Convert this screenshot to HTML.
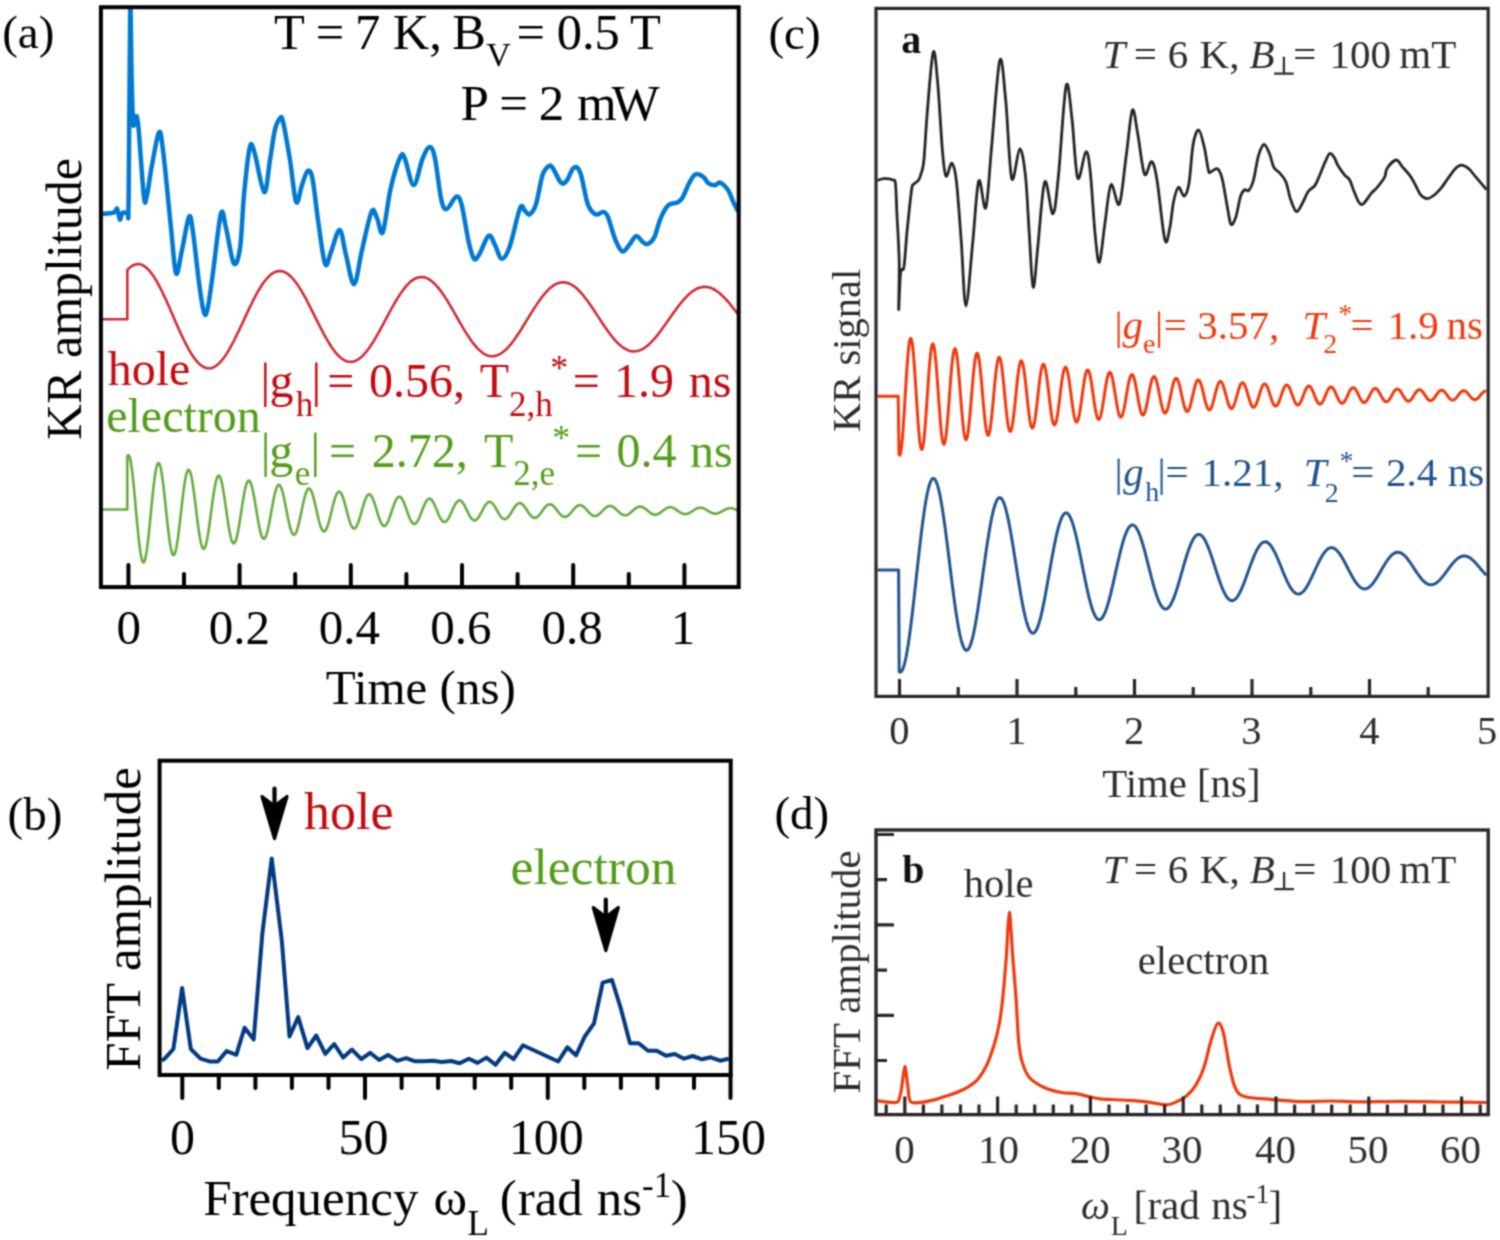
<!DOCTYPE html>
<html><head><meta charset="utf-8"><style>
html,body{margin:0;padding:0;background:#fff;}
svg{display:block;}
text{font-family:"Liberation Serif",serif;}
</style></head><body>
<svg width="1500" height="1240" viewBox="0 0 1500 1240">
<defs><filter id="bl" color-interpolation-filters="sRGB" x="0" y="0" width="1500" height="1240" filterUnits="userSpaceOnUse"><feConvolveMatrix order="3" kernelMatrix="0.0509 0.1238 0.0509 0.1238 0.3012 0.1238 0.0509 0.1238 0.0509" edgeMode="duplicate" preserveAlpha="false"/></filter><clipPath id="ca"><rect x="101" y="7" width="637.7" height="580"/></clipPath><clipPath id="cc"><rect x="876" y="8.4" width="612.2" height="688"/></clipPath></defs>
<rect width="1500" height="1240" fill="#fff"/>
<g filter="url(#bl)">
<!-- (a) curves -->
<path d="M101.5,319.2 L127.3,319.2 L127.3,270.1 L129.3,268.1 L131.3,266.5 L133.3,265.2 L135.3,264.5 L137.3,264.1 L139.3,264.2 L141.3,264.6 L143.3,265.5 L145.3,266.9 L147.3,268.6 L149.3,270.6 L151.3,273.1 L153.3,275.9 L155.3,279 L157.3,282.4 L159.3,286.1 L161.3,290 L163.3,294.1 L165.3,298.4 L167.3,302.8 L169.3,307.3 L171.3,311.9 L173.3,316.6 L175.3,321.2 L177.3,325.7 L179.3,330.2 L181.3,334.6 L183.3,338.8 L185.3,342.9 L187.3,346.7 L189.3,350.3 L191.3,353.7 L193.3,356.7 L195.3,359.4 L197.3,361.8 L199.3,363.9 L201.3,365.5 L203.3,366.8 L205.3,367.7 L207.3,368.2 L209.3,368.3 L211.3,368.1 L213.3,367.4 L215.3,366.3 L217.3,364.9 L219.3,363.1 L221.3,360.9 L223.3,358.5 L225.3,355.7 L227.3,352.6 L229.3,349.3 L231.3,345.7 L233.3,342 L235.3,338 L237.3,333.9 L239.3,329.8 L241.3,325.5 L243.3,321.2 L245.3,316.9 L247.3,312.6 L249.3,308.3 L251.3,304.2 L253.3,300.2 L255.3,296.3 L257.3,292.7 L259.3,289.2 L261.3,286 L263.3,283 L265.3,280.3 L267.3,278 L269.3,275.9 L271.3,274.2 L273.3,272.9 L275.3,271.9 L277.3,271.2 L279.3,271 L281.3,271.1 L283.3,271.6 L285.3,272.4 L287.3,273.6 L289.3,275.1 L291.3,277 L293.3,279.2 L295.3,281.7 L297.3,284.4 L299.3,287.4 L301.3,290.7 L303.3,294.1 L305.3,297.7 L307.3,301.5 L309.3,305.3 L311.3,309.3 L313.3,313.3 L315.3,317.3 L317.3,321.4 L319.3,325.3 L321.3,329.2 L323.3,333.1 L325.3,336.7 L327.3,340.2 L329.3,343.5 L331.3,346.7 L333.3,349.5 L335.3,352.1 L337.3,354.5 L339.3,356.5 L341.3,358.2 L343.3,359.6 L345.3,360.7 L347.3,361.4 L349.3,361.8 L351.3,361.9 L353.3,361.6 L355.3,360.9 L357.3,360 L359.3,358.7 L361.3,357.1 L363.3,355.1 L365.3,352.9 L367.3,350.5 L369.3,347.8 L371.3,344.8 L373.3,341.7 L375.3,338.4 L377.3,334.9 L379.3,331.4 L381.3,327.7 L383.3,324 L385.3,320.2 L387.3,316.4 L389.3,312.7 L391.3,309 L393.3,305.4 L395.3,302 L397.3,298.6 L399.3,295.4 L401.3,292.4 L403.3,289.7 L405.3,287.1 L407.3,284.8 L409.3,282.8 L411.3,281.1 L413.3,279.6 L415.3,278.5 L417.3,277.7 L419.3,277.2 L421.3,277 L423.3,277.1 L425.3,277.6 L427.3,278.4 L429.3,279.5 L431.3,280.9 L433.3,282.5 L435.3,284.5 L437.3,286.7 L439.3,289.1 L441.3,291.8 L443.3,294.6 L445.3,297.6 L447.3,300.8 L449.3,304.1 L451.3,307.5 L453.3,310.9 L455.3,314.4 L457.3,318 L459.3,321.5 L461.3,324.9 L463.3,328.3 L465.3,331.6 L467.3,334.8 L469.3,337.8 L471.3,340.7 L473.3,343.4 L475.3,345.8 L477.3,348.1 L479.3,350.1 L481.3,351.8 L483.3,353.3 L485.3,354.5 L487.3,355.4 L489.3,356 L491.3,356.3 L493.3,356.2 L495.3,355.9 L497.3,355.3 L499.3,354.4 L501.3,353.3 L503.3,351.8 L505.3,350.1 L507.3,348.2 L509.3,346 L511.3,343.6 L513.3,341 L515.3,338.2 L517.3,335.3 L519.3,332.3 L521.3,329.2 L523.3,326 L525.3,322.7 L527.3,319.4 L529.3,316.2 L531.3,312.9 L533.3,309.7 L535.3,306.6 L537.3,303.6 L539.3,300.7 L541.3,297.9 L543.3,295.3 L545.3,293 L547.3,290.8 L549.3,288.8 L551.3,287.1 L553.3,285.6 L555.3,284.4 L557.3,283.4 L559.3,282.8 L561.3,282.4 L563.3,282.3 L565.3,282.4 L567.3,282.9 L569.3,283.6 L571.3,284.6 L573.3,285.8 L575.3,287.3 L577.3,289 L579.3,291 L581.3,293.1 L583.3,295.5 L585.3,298 L587.3,300.6 L589.3,303.4 L591.3,306.3 L593.3,309.3 L595.3,312.3 L597.3,315.4 L599.3,318.4 L601.3,321.5 L603.3,324.5 L605.3,327.4 L607.3,330.3 L609.3,333 L611.3,335.7 L613.3,338.2 L615.3,340.5 L617.3,342.6 L619.3,344.5 L621.3,346.2 L623.3,347.7 L625.3,348.9 L627.3,349.9 L629.3,350.7 L631.3,351.2 L633.3,351.4 L635.3,351.3 L637.3,351 L639.3,350.5 L641.3,349.6 L643.3,348.6 L645.3,347.3 L647.3,345.8 L649.3,344 L651.3,342.1 L653.3,340 L655.3,337.7 L657.3,335.3 L659.3,332.7 L661.3,330.1 L663.3,327.3 L665.3,324.5 L667.3,321.7 L669.3,318.8 L671.3,316 L673.3,313.1 L675.3,310.4 L677.3,307.6 L679.3,305 L681.3,302.5 L683.3,300.1 L685.3,297.9 L687.3,295.9 L689.3,294 L691.3,292.3 L693.3,290.8 L695.3,289.6 L697.3,288.5 L699.3,287.8 L701.3,287.2 L703.3,286.9 L705.3,286.8 L707.3,287 L709.3,287.4 L711.3,288.1 L713.3,289 L715.3,290.1 L717.3,291.5 L719.3,293 L721.3,294.7 L723.3,296.6 L725.3,298.7 L727.3,300.9 L729.3,303.2 L731.3,305.7 L733.3,308.2 L735.3,310.8 L737.3,313.4" fill="none" stroke="#d02a36" stroke-width="2.6" stroke-linejoin="round"/>
<path d="M101.5,509.5 L127.3,509.5 L127.3,456.5 L128,455.3 L128.7,455.2 L129.4,456.4 L130.1,458.6 L130.8,462 L131.5,466.4 L132.2,471.7 L132.9,477.8 L133.6,484.5 L134.3,491.8 L135,499.4 L135.7,507.2 L136.4,515 L137.1,522.7 L137.8,530 L138.5,536.9 L139.2,543.2 L139.9,548.8 L140.6,553.5 L141.3,557.3 L142,560.1 L142.7,561.8 L143.4,562.4 L144.1,561.9 L144.8,560.3 L145.5,557.7 L146.2,554.1 L146.9,549.6 L147.6,544.3 L148.3,538.4 L149,531.9 L149.7,525 L150.4,517.8 L151.1,510.5 L151.8,503.3 L152.5,496.4 L153.2,489.7 L153.9,483.6 L154.6,478.1 L155.3,473.3 L156,469.3 L156.7,466.3 L157.4,464.2 L158.1,463.2 L158.8,463.1 L159.5,464.1 L160.2,466 L160.9,468.9 L161.6,472.7 L162.3,477.2 L163,482.4 L163.7,488.2 L164.4,494.4 L165.1,501 L165.8,507.7 L166.5,514.4 L167.2,521 L167.9,527.3 L168.6,533.2 L169.3,538.7 L170,543.4 L170.7,547.5 L171.4,550.7 L172.1,553.1 L172.8,554.6 L173.5,555.1 L174.2,554.7 L174.9,553.3 L175.6,551.1 L176.3,548 L177,544.1 L177.7,539.6 L178.4,534.5 L179.1,528.9 L179.8,523 L180.5,516.8 L181.2,510.6 L181.9,504.4 L182.6,498.4 L183.3,492.7 L184,487.4 L184.7,482.7 L185.4,478.6 L186.1,475.2 L186.8,472.6 L187.5,470.8 L188.2,469.9 L188.9,469.8 L189.6,470.7 L190.3,472.4 L191,474.8 L191.7,478.1 L192.4,482 L193.1,486.4 L193.8,491.4 L194.5,496.8 L195.2,502.4 L195.9,508.1 L196.6,513.9 L197.3,519.5 L198,525 L198.7,530.1 L199.4,534.7 L200.1,538.8 L200.8,542.3 L201.5,545.1 L202.2,547.1 L202.9,548.4 L203.6,548.8 L204.3,548.5 L205,547.3 L205.7,545.4 L206.4,542.7 L207.1,539.4 L207.8,535.5 L208.5,531.1 L209.2,526.3 L209.9,521.2 L210.6,516 L211.3,510.6 L212,505.3 L212.7,500.2 L213.4,495.3 L214.1,490.7 L214.8,486.7 L215.5,483.1 L216.2,480.2 L216.9,478 L217.6,476.5 L218.3,475.7 L219,475.6 L219.7,476.4 L220.4,477.8 L221.1,479.9 L221.8,482.7 L222.5,486 L223.2,489.9 L223.9,494.2 L224.6,498.7 L225.3,503.6 L226,508.5 L226.7,513.4 L227.4,518.3 L228.1,523 L228.8,527.3 L229.5,531.3 L230.2,534.9 L230.9,537.8 L231.6,540.2 L232.3,542 L233,543.1 L233.7,543.4 L234.4,543.1 L235.1,542.1 L235.8,540.5 L236.5,538.2 L237.2,535.4 L237.9,532 L238.6,528.2 L239.3,524.1 L240,519.8 L240.7,515.2 L241.4,510.6 L242.1,506.1 L242.8,501.7 L243.5,497.5 L244.2,493.6 L244.9,490.1 L245.6,487.1 L246.3,484.6 L247,482.6 L247.7,481.3 L248.4,480.6 L249.1,480.6 L249.8,481.2 L250.5,482.5 L251.2,484.3 L251.9,486.7 L252.6,489.5 L253.3,492.8 L254,496.5 L254.7,500.5 L255.4,504.6 L256.1,508.8 L256.8,513.1 L257.5,517.2 L258.2,521.2 L258.9,525 L259.6,528.4 L260.3,531.5 L261,534 L261.7,536.1 L262.4,537.6 L263.1,538.5 L263.8,538.8 L264.5,538.6 L265.2,537.7 L265.9,536.3 L266.6,534.3 L267.3,531.9 L268,529 L268.7,525.8 L269.4,522.2 L270.1,518.5 L270.8,514.6 L271.5,510.7 L272.2,506.7 L272.9,503 L273.6,499.3 L274.3,496 L275,493 L275.7,490.4 L276.4,488.3 L277.1,486.6 L277.8,485.5 L278.5,484.9 L279.2,484.9 L279.9,485.4 L280.6,486.5 L281.3,488 L282,490.1 L282.7,492.5 L283.4,495.4 L284.1,498.5 L284.8,501.9 L285.5,505.5 L286.2,509.1 L286.9,512.8 L287.6,516.3 L288.3,519.8 L289,523 L289.7,525.9 L290.4,528.5 L291.1,530.7 L291.8,532.5 L292.5,533.8 L293.2,534.6 L293.9,534.9 L294.6,534.6 L295.3,533.9 L296,532.7 L296.7,531 L297.4,528.9 L298.1,526.4 L298.8,523.7 L299.5,520.6 L300.2,517.4 L300.9,514.1 L301.6,510.7 L302.3,507.3 L303,504.1 L303.7,501 L304.4,498.1 L305.1,495.5 L305.8,493.3 L306.5,491.5 L307.2,490 L307.9,489.1 L308.6,488.6 L309.3,488.5 L310,489 L310.7,489.9 L311.4,491.3 L312.1,493 L312.8,495.1 L313.5,497.6 L314.2,500.3 L314.9,503.2 L315.6,506.2 L316.3,509.3 L317,512.5 L317.7,515.5 L318.4,518.5 L319.1,521.3 L319.8,523.8 L320.5,526 L321.2,527.9 L321.9,529.4 L322.6,530.5 L323.3,531.2 L324,531.5 L324.7,531.3 L325.4,530.6 L326.1,529.6 L326.8,528.1 L327.5,526.3 L328.2,524.2 L328.9,521.8 L329.6,519.2 L330.3,516.5 L331,513.6 L331.7,510.7 L332.4,507.8 L333.1,505 L333.8,502.4 L334.5,499.9 L335.2,497.7 L335.9,495.8 L336.6,494.2 L337.3,493 L338,492.1 L338.7,491.7 L339.4,491.7 L340.1,492.1 L340.8,492.9 L341.5,494 L342.2,495.5 L342.9,497.3 L343.6,499.4 L344.3,501.8 L345,504.3 L345.7,506.9 L346.4,509.5 L347.1,512.2 L347.8,514.9 L348.5,517.4 L349.2,519.8 L349.9,522 L350.6,523.9 L351.3,525.5 L352,526.8 L352.7,527.7 L353.4,528.3 L354.1,528.5 L354.8,528.4 L355.5,527.8 L356.2,526.9 L356.9,525.7 L357.6,524.1 L358.3,522.3 L359,520.3 L359.7,518 L360.4,515.7 L361.1,513.2 L361.8,510.7 L362.5,508.2 L363.2,505.8 L363.9,503.6 L364.6,501.4 L365.3,499.5 L366,497.9 L366.7,496.5 L367.4,495.5 L368.1,494.8 L368.8,494.4 L369.5,494.4 L370.2,494.7 L370.9,495.4 L371.6,496.4 L372.3,497.7 L373,499.2 L373.7,501 L374.4,503 L375.1,505.2 L375.8,507.4 L376.5,509.7 L377.2,512 L377.9,514.3 L378.6,516.5 L379.3,518.5 L380,520.4 L380.7,522 L381.4,523.4 L382.1,524.5 L382.8,525.4 L383.5,525.9 L384.2,526 L384.9,525.9 L385.6,525.4 L386.3,524.6 L387,523.6 L387.7,522.3 L388.4,520.7 L389.1,518.9 L389.8,517 L390.5,515 L391.2,512.9 L391.9,510.7 L392.6,508.6 L393.3,506.5 L394,504.6 L394.7,502.8 L395.4,501.1 L396.1,499.7 L396.8,498.6 L397.5,497.7 L398.2,497 L398.9,496.7 L399.6,496.7 L400.3,497 L401,497.6 L401.7,498.4 L402.4,499.5 L403.1,500.9 L403.8,502.4 L404.5,504.1 L405.2,506 L405.9,507.9 L406.6,509.9 L407.3,511.9 L408,513.8 L408.7,515.7 L409.4,517.4 L410.1,519 L410.8,520.4 L411.5,521.6 L412.2,522.6 L412.9,523.3 L413.6,523.7 L414.3,523.9 L415,523.8 L415.7,523.4 L416.4,522.7 L417.1,521.8 L417.8,520.6 L418.5,519.3 L419.2,517.8 L419.9,516.1 L420.6,514.4 L421.3,512.6 L422,510.7 L422.7,508.9 L423.4,507.1 L424.1,505.5 L424.8,503.9 L425.5,502.5 L426.2,501.3 L426.9,500.3 L427.6,499.5 L428.3,499 L429,498.7 L429.7,498.7 L430.4,499 L431.1,499.4 L431.8,500.2 L432.5,501.1 L433.2,502.3 L433.9,503.6 L434.6,505.1 L435.3,506.7 L436,508.3 L436.7,510 L437.4,511.7 L438.1,513.4 L438.8,515 L439.5,516.5 L440.2,517.9 L440.9,519.1 L441.6,520.1 L442.3,520.9 L443,521.5 L443.7,521.9 L444.4,522 L445.1,521.9 L445.8,521.6 L446.5,521 L447.2,520.2 L447.9,519.2 L448.6,518.1 L449.3,516.8 L450,515.4 L450.7,513.9 L451.4,512.3 L452.1,510.7 L452.8,509.2 L453.5,507.7 L454.2,506.2 L454.9,504.9 L455.6,503.7 L456.3,502.6 L457,501.8 L457.7,501.1 L458.4,500.7 L459.1,500.4 L459.8,500.4 L460.5,500.6 L461.2,501.1 L461.9,501.7 L462.6,502.5 L463.3,503.5 L464,504.6 L464.7,505.9 L465.4,507.2 L466.1,508.7 L466.8,510.1 L467.5,511.6 L468.2,513 L468.9,514.4 L469.6,515.7 L470.3,516.9 L471,517.9 L471.7,518.8 L472.4,519.5 L473.1,520 L473.8,520.3 L474.5,520.4 L475.2,520.3 L475.9,520.1 L476.6,519.6 L477.3,518.9 L478,518.1 L478.7,517.1 L479.4,515.9 L480.1,514.7 L480.8,513.4 L481.5,512.1 L482.2,510.8 L482.9,509.4 L483.6,508.1 L484.3,506.9 L485,505.7 L485.7,504.7 L486.4,503.8 L487.1,503.1 L487.8,502.5 L488.5,502.1 L489.2,501.9 L489.9,501.9 L490.6,502.1 L491.3,502.4 L492,503 L492.7,503.7 L493.4,504.5 L494.1,505.5 L494.8,506.6 L495.5,507.7 L496.2,509 L496.9,510.2 L497.6,511.5 L498.3,512.7 L499,513.9 L499.7,515 L500.4,516 L501.1,516.9 L501.8,517.7 L502.5,518.3 L503.2,518.7 L503.9,519 L504.6,519.1 L505.3,519 L506,518.7 L506.7,518.3 L507.4,517.7 L508.1,517 L508.8,516.2 L509.5,515.2 L510.2,514.2 L510.9,513.1 L511.6,511.9 L512.3,510.8 L513,509.6 L513.7,508.5 L514.4,507.4 L515.1,506.4 L515.8,505.5 L516.5,504.8 L517.2,504.1 L517.9,503.7 L518.6,503.3 L519.3,503.2 L520,503.1 L520.7,503.3 L521.4,503.6 L522.1,504.1 L522.8,504.7 L523.5,505.4 L524.2,506.2 L524.9,507.2 L525.6,508.2 L526.3,509.2 L527,510.3 L527.7,511.4 L528.4,512.4 L529.1,513.4 L529.8,514.4 L530.5,515.3 L531.2,516 L531.9,516.7 L532.6,517.2 L533.3,517.6 L534,517.8 L534.7,517.9 L535.4,517.8 L536.1,517.6 L536.8,517.3 L537.5,516.8 L538.2,516.1 L538.9,515.4 L539.6,514.6 L540.3,513.7 L541,512.7 L541.7,511.8 L542.4,510.8 L543.1,509.8 L543.8,508.8 L544.5,507.9 L545.2,507.1 L545.9,506.3 L546.6,505.6 L547.3,505.1 L548,504.7 L548.7,504.4 L549.4,504.2 L550.1,504.2 L550.8,504.4 L551.5,504.6 L552.2,505 L552.9,505.5 L553.6,506.2 L554.3,506.9 L555,507.7 L555.7,508.5 L556.4,509.4 L557.1,510.4 L557.8,511.3 L558.5,512.2 L559.2,513.1 L559.9,513.9 L560.6,514.6 L561.3,515.3 L562,515.9 L562.7,516.3 L563.4,516.6 L564.1,516.8 L564.8,516.9 L565.5,516.8 L566.2,516.7 L566.9,516.3 L567.6,515.9 L568.3,515.4 L569,514.8 L569.7,514.1 L570.4,513.3 L571.1,512.5 L571.8,511.6 L572.5,510.8 L573.2,509.9 L573.9,509.1 L574.6,508.3 L575.3,507.6 L576,506.9 L576.7,506.4 L577.4,505.9 L578.1,505.5 L578.8,505.3 L579.5,505.2 L580.2,505.2 L580.9,505.3 L581.6,505.5 L582.3,505.8 L583,506.3 L583.7,506.8 L584.4,507.4 L585.1,508.1 L585.8,508.9 L586.5,509.6 L587.2,510.4 L587.9,511.2 L588.6,512 L589.3,512.8 L590,513.5 L590.7,514.1 L591.4,514.7 L592.1,515.1 L592.8,515.5 L593.5,515.8 L594.2,516 L594.9,516 L595.6,516 L596.3,515.8 L597,515.6 L597.7,515.2 L598.4,514.7 L599.1,514.2 L599.8,513.6 L600.5,512.9 L601.2,512.2 L601.9,511.5 L602.6,510.8 L603.3,510 L604,509.3 L604.7,508.7 L605.4,508 L606.1,507.5 L606.8,507 L607.5,506.6 L608.2,506.3 L608.9,506.1 L609.6,506 L610.3,506 L611,506.1 L611.7,506.3 L612.4,506.5 L613.1,506.9 L613.8,507.4 L614.5,507.9 L615.2,508.5 L615.9,509.1 L616.6,509.8 L617.3,510.5 L618,511.2 L618.7,511.8 L619.4,512.5 L620.1,513.1 L620.8,513.6 L621.5,514.1 L622.2,514.5 L622.9,514.9 L623.6,515.1 L624.3,515.2 L625,515.3 L625.7,515.3 L626.4,515.1 L627.1,514.9 L627.8,514.6 L628.5,514.2 L629.2,513.7 L629.9,513.2 L630.6,512.6 L631.3,512 L632,511.4 L632.7,510.8 L633.4,510.2 L634.1,509.5 L634.8,509 L635.5,508.4 L636.2,507.9 L636.9,507.5 L637.6,507.2 L638.3,506.9 L639,506.7 L639.7,506.6 L640.4,506.6 L641.1,506.7 L641.8,506.9 L642.5,507.1 L643.2,507.5 L643.9,507.9 L644.6,508.3 L645.3,508.8 L646,509.4 L646.7,509.9 L647.4,510.5 L648.1,511.1 L648.8,511.7 L649.5,512.2 L650.2,512.8 L650.9,513.2 L651.6,513.6 L652.3,514 L653,514.3 L653.7,514.5 L654.4,514.6 L655.1,514.7 L655.8,514.6 L656.5,514.5 L657.2,514.3 L657.9,514 L658.6,513.7 L659.3,513.3 L660,512.9 L660.7,512.4 L661.4,511.9 L662.1,511.3 L662.8,510.8 L663.5,510.2 L664.2,509.7 L664.9,509.2 L665.6,508.8 L666.3,508.4 L667,508 L667.7,507.7 L668.4,507.5 L669.1,507.3 L669.8,507.2 L670.5,507.2 L671.2,507.3 L671.9,507.4 L672.6,507.7 L673.3,507.9 L674,508.3 L674.7,508.7 L675.4,509.1 L676.1,509.6 L676.8,510.1 L677.5,510.6 L678.2,511.1 L678.9,511.6 L679.6,512 L680.3,512.5 L681,512.9 L681.7,513.2 L682.4,513.5 L683.1,513.8 L683.8,514 L684.5,514.1 L685.2,514.1 L685.9,514.1 L686.6,514 L687.3,513.8 L688,513.6 L688.7,513.3 L689.4,513 L690.1,512.6 L690.8,512.2 L691.5,511.7 L692.2,511.2 L692.9,510.8 L693.6,510.3 L694.3,509.9 L695,509.4 L695.7,509.1 L696.4,508.7 L697.1,508.4 L697.8,508.1 L698.5,507.9 L699.2,507.8 L699.9,507.7 L700.6,507.7 L701.3,507.8 L702,507.9 L702.7,508.1 L703.4,508.3 L704.1,508.6 L704.8,509 L705.5,509.3 L706.2,509.7 L706.9,510.2 L707.6,510.6 L708.3,511 L709,511.5 L709.7,511.9 L710.4,512.2 L711.1,512.6 L711.8,512.9 L712.5,513.2 L713.2,513.4 L713.9,513.5 L714.6,513.6 L715.3,513.6 L716,513.6 L716.7,513.5 L717.4,513.4 L718.1,513.2 L718.8,512.9 L719.5,512.6 L720.2,512.3 L720.9,512 L721.6,511.6 L722.3,511.2 L723,510.8 L723.7,510.4 L724.4,510 L725.1,509.6 L725.8,509.3 L726.5,509 L727.2,508.7 L727.9,508.5 L728.6,508.3 L729.3,508.2 L730,508.2 L730.7,508.2 L731.4,508.2 L732.1,508.3 L732.8,508.5 L733.5,508.7 L734.2,508.9 L734.9,509.2 L735.6,509.6 L736.3,509.9 L737,510.3 L737.7,510.6" fill="none" stroke="#66ab40" stroke-width="2.6" stroke-linejoin="round"/>
<path clip-path="url(#ca)" d="M101.5,214 C103.5,213.8 111.1,213.6 113.7,212.7 C116.3,211.8 116.1,207.4 117.1,208.6 C118.1,209.8 119,218.9 119.9,219.6 C120.8,220.3 121.3,213.9 122.6,212.7 C123.8,211.4 126.4,214.2 127.4,212.1 C128.4,210 128.1,233.7 128.6,200 C129.1,166.3 129.7,30.8 130.2,10 C130.7,-10.8 131.1,56 131.6,75 C132.1,94 132.5,117.1 133.2,124 C133.9,130.9 134.8,116.2 135.6,116.5 C136.4,116.8 136.9,112.8 138.3,126 C139.7,139.2 142.4,183.8 143.8,195.6 C145.2,207.4 145.2,202.1 146.6,197 C148,191.9 149.9,175.7 152,165 C154.1,154.3 157.1,135.1 158.9,132.6 C160.7,130.1 160.9,133.8 163,150 C165.1,166.2 169,209.3 171.2,229.9 C173.4,250.5 174.3,270.1 176.1,273.5 C177.9,276.9 179.8,259.4 182,250 C184.2,240.6 187.2,219.8 189,216.8 C190.8,213.8 191.2,219.8 193,232 C194.8,244.2 197.9,276.2 200,290 C202.1,303.8 203.8,316.5 205.8,314.8 C207.8,313.1 209.5,296.8 212,280 C214.5,263.2 218.5,222.9 220.8,214.2 C223.1,205.5 223.8,219.8 226,228 C228.2,236.2 231.4,259.8 233.7,263.2 C236,266.6 238.3,259.7 240,248.3 C241.7,236.9 242.4,211.8 244,195 C245.6,178.2 247.9,154.8 249.7,147.7 C251.4,140.6 252.1,145.1 254.5,152.5 C256.9,159.9 261.6,190.9 264.2,192.2 C266.8,193.4 268.2,170.3 270,160 C271.8,149.7 273.2,137.2 274.8,130.3 C276.4,123.4 278.3,120.2 279.7,118.7 C281.1,117.2 281.3,114.7 283,121.6 C284.7,128.5 287.8,146.6 290,160 C292.2,173.4 294.1,197.7 296.1,201.9 C298.1,206.1 300.1,190.2 302,185 C303.9,179.8 305.9,172 307.7,170.9 C309.4,169.8 310.8,170.5 312.5,178.7 C314.2,186.9 315.9,205.8 318,220 C320.1,234.2 322.9,258.5 325.1,263.8 C327.3,269.1 328.6,257.6 331,252 C333.4,246.3 337.1,229.4 339.6,229.9 C342.1,230.4 343.6,246 346,255 C348.4,264 351.4,284.9 354.1,284.1 C356.8,283.3 359.1,262.1 362,250 C364.9,237.9 369.1,216.9 371.6,211.6 C374.1,206.3 375.1,214.6 377,218 C378.9,221.4 380.5,237.1 382.8,232.2 C385.1,227.3 387.7,201.3 390.6,188.7 C393.5,176.1 398,161.8 400.4,156.8 C402.8,151.8 402.6,153.8 404.8,158.5 C407,163.2 410.7,185.1 413.7,185.1 C416.7,185.1 419.9,164.8 422.6,158.5 C425.3,152.2 427.6,147 429.7,147 C431.8,147 433.1,149.8 435,158.5 C436.9,167.2 439.3,190.9 441.2,199.3 C443.1,207.7 444,209.5 446.5,209.1 C449,208.7 453.8,197.4 456.3,196.7 C458.8,196 459.5,197.2 461.6,204.7 C463.7,212.2 466.6,232.9 468.7,241.9 C470.8,250.9 472.2,256.7 474,258.8 C475.8,260.9 476.9,258.2 479.3,254.3 C481.7,250.5 486,237.2 488.6,235.7 C491.2,234.1 492.9,241.2 495,245 C497.1,248.8 499.1,258.4 501.5,258.8 C503.9,259.2 506.4,255.6 509.5,247.2 C512.6,238.8 517.5,214.2 520.1,208.2 C522.7,202.2 523.4,210 525,211 C526.6,212 527.9,215.6 529.7,214.4 C531.6,213.2 534,210.5 536.1,203.9 C538.2,197.3 540.5,181.1 542.6,174.8 C544.8,168.5 547.3,167.1 549,166 C550.7,164.9 551,165.6 553,168.4 C555,171.2 558.8,180.9 561.1,182.9 C563.4,184.9 564.6,183.1 566.8,180.5 C568.9,177.9 571.7,168.8 574,167.6 C576.3,166.4 578.2,167.1 580.5,173.2 C582.8,179.2 585.2,197 587.7,203.9 C590.2,210.8 593.2,213.1 595.8,214.4 C598.4,215.7 601.1,211.5 603.1,211.9 C605.1,212.3 605.9,212.2 607.9,216.8 C609.9,221.4 612.8,233.6 615.2,239.4 C617.6,245.2 620,250.7 622.4,251.5 C624.8,252.3 627.4,246.8 629.7,244.2 C632,241.6 634,236.5 636.1,236.1 C638.2,235.7 640.7,240.5 642.6,241.8 C644.5,243.1 645.8,244.7 647.7,244 C649.6,243.3 652,241.8 654.2,237.5 C656.4,233.2 658.3,223.5 660.7,218.1 C663.1,212.7 665.6,207.8 668.4,205.2 C671.2,202.6 675,203.9 677.4,202.6 C679.8,201.3 680.6,200.7 682.6,197.5 C684.6,194.3 687,187.2 689.1,183.3 C691.2,179.4 693.1,175.3 695.5,174.2 C697.9,173.1 701.1,175.3 703.3,176.8 C705.4,178.3 706.5,181.9 708.4,183.3 C710.3,184.7 712.9,185.3 714.9,185.2 C716.9,185.1 718,181.8 720.1,182.6 C722.2,183.3 725.6,186.6 727.8,189.7 C729.9,192.8 731.4,197.9 733,201.3 C734.6,204.8 736.8,208.9 737.5,210.4" fill="none" stroke="#0079d0" stroke-width="4.5" stroke-linejoin="round" stroke-linecap="round"/>
<rect x="100.9" y="7.2" width="637.8" height="579.9" fill="none" stroke="#000" stroke-width="4"/>
<path d="M128.4,587V565 M184,587V574 M239.6,587V565 M295.2,587V574 M350.8,587V565 M406.4,587V574 M462,587V565 M517.6,587V574 M573.2,587V565 M628.8,587V574 M684.4,587V565" stroke="#000" stroke-width="4" stroke-linecap="round"/>
<!-- (b) -->
<g fill="#000" stroke="#000" stroke-width="3.2" stroke-linejoin="round" stroke-linecap="round">
<path d="M274.5,788.5V808" fill="none" stroke-width="4.2"/>
<path d="M262,796.5 L274.5,806 L287,796.5 L274.5,838.5 Z"/>
<path d="M605.8,899.5V919" fill="none" stroke-width="4.2"/>
<path d="M593.3,907.5 L605.8,917 L618.3,907.5 L605.8,950.5 Z"/>
</g>
<path d="M161.8,1060.6 L164.7,1058.7 L173.4,1049 L182.1,988.1 L190.8,1049 L200.5,1058.7 L210.2,1061.6 L217.9,1061.6 L226.6,1051 L236.3,1054.8 L244.6,1027.7 L253.7,1039.4 L262.4,932.9 L271.7,858.4 L281.8,940.6 L289.5,1036.5 L298.2,1017.1 L307.5,1048.1 L316.2,1035.5 L325.3,1053.9 L334.2,1044 L343.2,1057.6 L352,1049.6 L361.3,1059.2 L370.1,1052.8 L379.2,1060 L388,1054.9 L397.3,1060.8 L406.1,1058.1 L415.2,1061.3 L424,1061.3 L432.8,1060.8 L441.9,1061.9 L450.9,1061 L459.7,1063.2 L468.8,1058.7 L477.6,1062.9 L486.4,1057.6 L495.5,1064.8 L504.8,1052.8 L513.6,1059.2 L522.9,1045.3 L558.2,1061.5 L567.3,1047.3 L576,1055.3 L584.7,1036.7 L594,1023.3 L602.7,982.7 L612,980 L620.7,1008 L630,1043.3 L638.7,1043.3 L648,1050.7 L656.7,1050.7 L666,1055.7 L674.7,1054 L684,1058.7 L692.7,1056 L702,1059.3 L710.7,1057.3 L720,1060.7 L728.7,1058.7" fill="none" stroke="#033a80" stroke-width="4" stroke-linejoin="round"/>
<rect x="159.6" y="760.7" width="571.1" height="314.3" fill="none" stroke="#000" stroke-width="4"/>
<path d="M182.3,1075V1098 M218.8,1075V1088 M255.4,1075V1088 M291.9,1075V1088 M328.5,1075V1088 M365,1075V1098 M401.6,1075V1088 M438.1,1075V1088 M474.7,1075V1088 M511.2,1075V1088 M547.8,1075V1098 M584.3,1075V1088 M620.9,1075V1088 M657.4,1075V1088 M694,1075V1088 M730.5,1075V1098" stroke="#000" stroke-width="4" stroke-linecap="round"/>
<!-- (c) -->
<path d="M877.5,180.5 C878.6,180.2 881.3,178.8 883.9,178.7 C886.5,178.6 891,179.1 892.9,180 C894.8,180.9 894.9,178.6 895.5,183.9 C896.1,189.2 896.2,198.6 896.8,211.6 C897.4,224.6 898.9,245.7 899.2,262 C899.5,278.3 898.5,307.8 898.7,309.5 C898.9,311.2 899.7,279.4 900.6,272.3 C901.5,265.2 902.8,274 903.9,267.1 C905,260.2 905.8,243.9 907.1,231 C908.4,218.1 910.4,197.5 911.6,189.7 C912.8,181.8 913,185.5 914.2,183.9 C915.4,182.3 917.5,181.8 918.7,180 C919.9,178.2 920.4,176.2 921.3,172.9 C922.2,169.6 922.9,170.2 923.9,160 C924.9,149.8 925.8,129.9 927.3,111.9 C928.8,93.9 931.5,56.9 933.2,52.2 C935,47.5 936.2,67.2 937.8,83.8 C939.3,100.4 941.1,136.2 942.5,151.6 C943.9,167 944.4,174.2 946,176.2 C947.6,178.1 950.1,162.3 951.9,163.3 C953.6,164.3 955,169.1 956.5,182 C958,194.9 959.6,219.8 961.2,240.5 C962.8,261.2 964,306 965.9,306 C967.8,306 970.8,261.4 972.9,240.5 C975,219.7 976.6,186.3 978.8,180.9 C980.9,175.5 983.7,213.5 985.8,207.8 C987.9,202.2 989.3,171.6 991.6,147 C993.9,122.4 997.4,68.2 999.8,60.4 C1002.1,52.6 1003.7,80.5 1005.7,100.2 C1007.7,119.9 1009.4,170.4 1011.7,178.5 C1014,186.6 1017.4,149.4 1019.7,149 C1022,148.6 1023.9,161.9 1025.5,176.1 C1027.1,190.3 1028,215.6 1029.3,234.1 C1030.6,252.6 1031.7,285.7 1033.2,287.3 C1034.7,288.9 1036.2,261.4 1038.1,243.8 C1040,226.2 1042.3,186.9 1044.8,181.9 C1047.3,176.9 1050.6,214.8 1052.9,213.8 C1055.2,212.8 1056.2,197.4 1058.4,176.1 C1060.6,154.8 1063.8,95.8 1066.1,86.1 C1068.3,76.4 1070,102.7 1071.9,118 C1073.8,133.3 1075.4,172.3 1077.7,178 C1080,183.7 1083.7,152.9 1085.8,151.9 C1087.9,150.9 1088.8,158.5 1090.3,172.2 C1091.8,185.9 1093.6,219.1 1095.1,234.1 C1096.6,249.1 1097.8,263.8 1099.4,262.2 C1101,260.6 1102.9,237.3 1104.8,224.4 C1106.7,211.5 1108.6,188.2 1111,184.8 C1113.4,181.4 1116.8,208.8 1119.3,204.1 C1121.8,199.4 1123.9,172.3 1126.1,156.7 C1128.3,141.1 1130.4,114.2 1132.3,110.3 C1134.2,106.4 1135.7,122.9 1137.7,133.5 C1139.7,144.1 1142.2,169.4 1144.5,174.1 C1146.8,178.8 1149.5,160.6 1151.6,161.6 C1153.7,162.6 1154.8,167 1157,180 C1159.2,193 1162.7,231.4 1164.8,239.5 C1166.9,247.6 1168.2,234.8 1169.7,228.4 C1171.2,222 1172.2,207.8 1173.7,201 C1175.2,194.2 1176.8,188.1 1178.5,187.3 C1180.2,186.5 1182.5,196.8 1184.2,196.1 C1186,195.4 1187.5,191.8 1189,183.2 C1190.5,174.6 1191.5,153.4 1193.1,144.5 C1194.7,135.6 1196.8,129.5 1198.7,130 C1200.6,130.5 1202.8,141 1204.4,147.7 C1206,154.4 1207.3,166.3 1208.4,170.3 C1209.5,174.3 1209.3,172.2 1210.8,171.9 C1212.3,171.6 1215.4,167.6 1217.3,168.7 C1219.2,169.8 1220.4,171.7 1222.1,178.4 C1223.8,185.1 1226.2,201.3 1227.7,209 C1229.2,216.7 1229.7,223.1 1231,224.4 C1232.3,225.8 1234.2,221.8 1235.8,217.1 C1237.4,212.4 1239.1,200.7 1240.6,196.1 C1242.1,191.5 1243.3,190.6 1244.7,189.7 C1246.1,188.8 1247.2,192.1 1248.7,190.5 C1250.2,188.9 1251.9,185.8 1253.5,180 C1255.1,174.2 1256.7,161.7 1258.4,155.8 C1260.2,149.9 1262.1,144.8 1264,144.5 C1265.9,144.2 1268.1,150.4 1269.7,154.2 C1271.3,158 1272.1,164 1273.7,167.1 C1275.3,170.2 1277.4,170.3 1279.4,172.7 C1281.4,175.1 1283.9,177.1 1285.8,181.6 C1287.7,186.1 1288.8,194.4 1290.6,199.4 C1292.3,204.4 1294.4,210.7 1296.3,211.5 C1298.2,212.3 1299.9,207.6 1301.9,204.2 C1303.9,200.8 1306.2,194.4 1308.4,191.3 C1310.6,188.2 1312.9,188.3 1314.8,185.6 C1316.7,182.9 1318,179.1 1319.7,175.2 C1321.4,171.2 1323.5,165.5 1325.2,161.9 C1326.9,158.3 1328.2,154.3 1329.7,153.6 C1331.2,152.8 1332.8,155.4 1334.2,157.4 C1335.6,159.4 1336.4,162.9 1338.1,165.8 C1339.8,168.7 1342.6,172.5 1344.5,174.9 C1346.4,177.3 1348.2,177.4 1349.7,180 C1351.2,182.6 1352.1,186.6 1353.6,190.3 C1355.1,194 1357.1,199.7 1358.7,202 C1360.3,204.3 1361.1,205.4 1363.2,203.9 C1365.3,202.4 1369.3,195.6 1371.6,192.9 C1373.9,190.2 1374.6,190.4 1376.8,187.8 C1379,185.2 1382.8,180.6 1384.5,177.4 C1386.2,174.2 1385.2,171.3 1387.1,168.4 C1389,165.5 1393.5,160.2 1396.1,160 C1398.7,159.8 1400.2,164.4 1402.6,167.1 C1405,169.8 1408.1,173.1 1410.3,176.1 C1412.5,179.1 1413.8,182.1 1415.5,185.2 C1417.2,188.3 1418.8,192.7 1420.7,194.9 C1422.6,197.2 1424.9,198.6 1427.1,198.7 C1429.2,198.8 1431.2,197.3 1433.6,195.5 C1436,193.7 1438.9,190.6 1441.3,187.8 C1443.7,185 1445.4,181.9 1447.8,178.7 C1450.2,175.5 1453.2,170.7 1455.5,168.4 C1457.8,166.2 1459.1,165.2 1461.3,165.2 C1463.5,165.2 1465.9,166.4 1468.4,168.4 C1470.9,170.4 1473.1,173.9 1476.1,177.4 C1479.1,180.9 1484.8,187.6 1486.5,189.7" fill="none" stroke="#282424" stroke-width="2.8" stroke-linejoin="round"/>
<path d="M877.5,396.3 L898.2,396.3 L899,454.3 L899.6,455.2 L900.2,454.5 L900.8,452.1 L901.4,448 L902,442.4 L902.6,435.5 L903.2,427.5 L903.8,418.5 L904.4,409 L905,399.1 L905.6,389.2 L906.2,379.5 L906.8,370.3 L907.4,361.8 L908,354.4 L908.6,348.2 L909.2,343.4 L909.8,340.2 L910.4,338.5 L911,338.5 L911.6,340.1 L912.2,343.3 L912.8,348 L913.4,354.1 L914,361.3 L914.6,369.4 L915.2,378.3 L915.8,387.6 L916.4,397 L917,406.4 L917.6,415.4 L918.2,423.8 L918.8,431.2 L919.4,437.7 L920,442.8 L920.6,446.6 L921.2,448.8 L921.8,449.5 L922.4,448.6 L923,446.2 L923.6,442.3 L924.2,437.1 L924.8,430.7 L925.4,423.4 L926,415.2 L926.6,406.5 L927.2,397.6 L927.8,388.6 L928.4,379.8 L929,371.6 L929.6,364.1 L930.2,357.5 L930.8,352.1 L931.4,347.9 L932,345.2 L932.6,343.9 L933.2,344 L933.8,345.7 L934.4,348.8 L935,353.2 L935.6,358.8 L936.2,365.5 L936.8,372.9 L937.4,381 L938,389.4 L938.6,398 L939.2,406.4 L939.8,414.5 L940.4,422 L941,428.6 L941.6,434.3 L942.2,438.8 L942.8,442 L943.4,443.9 L944,444.3 L944.6,443.3 L945.2,440.9 L945.8,437.3 L946.4,432.4 L947,426.5 L947.6,419.7 L948.2,412.3 L948.8,404.4 L949.4,396.3 L950,388.1 L950.6,380.3 L951.2,372.9 L951.8,366.2 L952.4,360.4 L953,355.7 L953.6,352.1 L954.2,349.7 L954.8,348.7 L955.4,349.1 L956,350.8 L956.6,353.7 L957.2,357.9 L957.8,363.1 L958.4,369.2 L959,376 L959.6,383.4 L960.2,391 L960.8,398.8 L961.4,406.4 L962,413.6 L962.6,420.3 L963.2,426.2 L963.8,431.2 L964.4,435.1 L965,437.8 L965.6,439.3 L966.2,439.6 L966.8,438.5 L967.4,436.2 L968,432.7 L968.6,428.2 L969.2,422.7 L969.8,416.5 L970.4,409.7 L971,402.5 L971.6,395.2 L972.2,387.9 L972.8,380.8 L973.4,374.2 L974,368.3 L974.6,363.1 L975.2,359 L975.8,355.8 L976.4,353.9 L977,353.2 L977.6,353.6 L978.2,355.3 L978.8,358.1 L979.4,362 L980,366.9 L980.6,372.5 L981.2,378.7 L981.8,385.4 L982.4,392.4 L983,399.4 L983.6,406.2 L984.2,412.7 L984.8,418.6 L985.4,423.9 L986,428.3 L986.6,431.7 L987.2,434 L987.8,435.2 L988.4,435.3 L989,434.1 L989.6,431.9 L990.2,428.6 L990.8,424.4 L991.4,419.4 L992,413.7 L992.6,407.5 L993.2,401 L993.8,394.3 L994.4,387.7 L995,381.4 L995.6,375.5 L996.2,370.2 L996.8,365.7 L997.4,362 L998,359.3 L998.6,357.7 L999.2,357.2 L999.8,357.8 L1000.4,359.4 L1001,362.1 L1001.6,365.8 L1002.2,370.2 L1002.8,375.4 L1003.4,381.1 L1004,387.2 L1004.6,393.5 L1005.2,399.8 L1005.8,406 L1006.4,411.8 L1007,417.1 L1007.6,421.7 L1008.2,425.6 L1008.8,428.5 L1009.4,430.5 L1010,431.5 L1010.6,431.4 L1011.2,430.2 L1011.8,428.1 L1012.4,425 L1013,421.1 L1013.6,416.4 L1014.2,411.2 L1014.8,405.5 L1015.4,399.6 L1016,393.6 L1016.6,387.7 L1017.2,382 L1017.8,376.7 L1018.4,372 L1019,368 L1019.6,364.8 L1020.2,362.5 L1020.8,361.2 L1021.4,360.9 L1022,361.5 L1022.6,363.1 L1023.2,365.7 L1023.8,369.1 L1024.4,373.2 L1025,378 L1025.6,383.2 L1026.2,388.7 L1026.8,394.4 L1027.4,400.1 L1028,405.7 L1028.6,410.9 L1029.2,415.6 L1029.8,419.7 L1030.4,423.1 L1031,425.6 L1031.6,427.3 L1032.2,428 L1032.8,427.8 L1033.4,426.7 L1034,424.6 L1034.6,421.7 L1035.2,418.1 L1035.8,413.8 L1036.4,409 L1037,403.9 L1037.6,398.5 L1038.2,393 L1038.8,387.7 L1039.4,382.6 L1040,377.9 L1040.6,373.7 L1041.2,370.2 L1041.8,367.4 L1042.4,365.5 L1043,364.4 L1043.6,364.2 L1044.2,364.9 L1044.8,366.5 L1045.4,368.9 L1046,372.1 L1046.6,375.9 L1047.2,380.2 L1047.8,385 L1048.4,390 L1049,395.2 L1049.6,400.4 L1050.2,405.3 L1050.8,410 L1051.4,414.2 L1052,417.8 L1052.6,420.8 L1053.2,423 L1053.8,424.4 L1054.4,424.9 L1055,424.6 L1055.6,423.5 L1056.2,421.5 L1056.8,418.8 L1057.4,415.4 L1058,411.5 L1058.6,407.1 L1059.2,402.4 L1059.8,397.5 L1060.4,392.6 L1061,387.8 L1061.6,383.2 L1062.2,379 L1062.8,375.3 L1063.4,372.2 L1064,369.8 L1064.6,368.1 L1065.2,367.3 L1065.8,367.2 L1066.4,368 L1067,369.5 L1067.6,371.8 L1068.2,374.7 L1068.8,378.2 L1069.4,382.2 L1070,386.6 L1070.6,391.2 L1071.2,395.8 L1071.8,400.5 L1072.4,404.9 L1073,409.1 L1073.6,412.8 L1074.2,416 L1074.8,418.6 L1075.4,420.5 L1076,421.7 L1076.6,422.1 L1077.2,421.7 L1077.8,420.6 L1078.4,418.7 L1079,416.2 L1079.6,413 L1080.2,409.4 L1080.8,405.4 L1081.4,401.1 L1082,396.7 L1082.6,392.3 L1083.2,387.9 L1083.8,383.8 L1084.4,380.1 L1085,376.8 L1085.6,374.1 L1086.2,372 L1086.8,370.6 L1087.4,369.9 L1088,369.9 L1088.6,370.7 L1089.2,372.2 L1089.8,374.3 L1090.4,377.1 L1091,380.3 L1091.6,384 L1092.2,388 L1092.8,392.1 L1093.4,396.4 L1094,400.5 L1094.6,404.5 L1095.2,408.3 L1095.8,411.6 L1096.4,414.4 L1097,416.7 L1097.6,418.3 L1098.2,419.3 L1098.8,419.5 L1099.4,419.1 L1100,418 L1100.6,416.2 L1101.2,413.8 L1101.8,410.9 L1102.4,407.6 L1103,403.9 L1103.6,400 L1104.2,396 L1104.8,392 L1105.4,388.1 L1106,384.5 L1106.6,381.1 L1107.2,378.2 L1107.8,375.8 L1108.4,374 L1109,372.8 L1109.6,372.3 L1110.2,372.4 L1110.8,373.2 L1111.4,374.6 L1112,376.6 L1112.6,379.2 L1113.2,382.2 L1113.8,385.5 L1114.4,389.2 L1115,392.9 L1115.6,396.8 L1116.2,400.5 L1116.8,404.1 L1117.4,407.4 L1118,410.4 L1118.6,412.9 L1119.2,414.9 L1119.8,416.2 L1120.4,417 L1121,417.2 L1121.6,416.7 L1122.2,415.6 L1122.8,413.9 L1123.4,411.7 L1124,409.1 L1124.6,406 L1125.2,402.7 L1125.8,399.1 L1126.4,395.5 L1127,391.9 L1127.6,388.4 L1128.2,385.1 L1128.8,382.1 L1129.4,379.6 L1130,377.5 L1130.6,375.9 L1131.2,374.9 L1131.8,374.5 L1132.4,374.7 L1133,375.5 L1133.6,376.8 L1134.2,378.7 L1134.8,381.1 L1135.4,383.8 L1136,386.9 L1136.6,390.2 L1137.2,393.6 L1137.8,397.1 L1138.4,400.5 L1139,403.7 L1139.6,406.6 L1140.2,409.3 L1140.8,411.5 L1141.4,413.2 L1142,414.4 L1142.6,415 L1143.2,415.1 L1143.8,414.6 L1144.4,413.5 L1145,411.9 L1145.6,409.9 L1146.2,407.4 L1146.8,404.6 L1147.4,401.5 L1148,398.3 L1148.6,395 L1149.2,391.8 L1149.8,388.6 L1150.4,385.7 L1151,383.1 L1151.6,380.8 L1152.2,378.9 L1152.8,377.6 L1153.4,376.8 L1154,376.5 L1154.6,376.7 L1155.2,377.5 L1155.8,378.8 L1156.4,380.6 L1157,382.7 L1157.6,385.3 L1158.2,388.1 L1158.8,391.1 L1159.4,394.2 L1160,397.3 L1160.6,400.4 L1161.2,403.3 L1161.8,405.9 L1162.4,408.2 L1163,410.1 L1163.6,411.6 L1164.2,412.6 L1164.8,413.2 L1165.4,413.1 L1166,412.6 L1166.6,411.6 L1167.2,410.1 L1167.8,408.2 L1168.4,405.9 L1169,403.3 L1169.6,400.6 L1170.2,397.6 L1170.8,394.7 L1171.4,391.7 L1172,388.9 L1172.6,386.3 L1173.2,383.9 L1173.8,381.9 L1174.4,380.3 L1175,379.2 L1175.6,378.5 L1176.2,378.3 L1176.8,378.6 L1177.4,379.3 L1178,380.6 L1178.6,382.2 L1179.2,384.2 L1179.8,386.6 L1180.4,389.1 L1181,391.9 L1181.6,394.7 L1182.2,397.5 L1182.8,400.2 L1183.4,402.8 L1184,405.2 L1184.6,407.2 L1185.2,408.9 L1185.8,410.2 L1186.4,411.1 L1187,411.5 L1187.6,411.4 L1188.2,410.9 L1188.8,409.9 L1189.4,408.5 L1190,406.7 L1190.6,404.6 L1191.2,402.2 L1191.8,399.7 L1192.4,397 L1193,394.4 L1193.6,391.7 L1194.2,389.2 L1194.8,386.8 L1195.4,384.8 L1196,383 L1196.6,381.6 L1197.2,380.6 L1197.8,380 L1198.4,379.9 L1199,380.2 L1199.6,381 L1200.2,382.2 L1200.8,383.7 L1201.4,385.6 L1202,387.7 L1202.6,390 L1203.2,392.5 L1203.8,395.1 L1204.4,397.6 L1205,400.1 L1205.6,402.4 L1206.2,404.5 L1206.8,406.3 L1207.4,407.8 L1208,408.9 L1208.6,409.6 L1209.2,409.9 L1209.8,409.8 L1210.4,409.3 L1211,408.3 L1211.6,407 L1212.2,405.4 L1212.8,403.4 L1213.4,401.3 L1214,399 L1214.6,396.6 L1215.2,394.1 L1215.8,391.7 L1216.4,389.5 L1217,387.4 L1217.6,385.5 L1218.2,384 L1218.8,382.8 L1219.4,381.9 L1220,381.5 L1220.6,381.4 L1221.2,381.7 L1221.8,382.5 L1222.4,383.6 L1223,385 L1223.6,386.7 L1224.2,388.7 L1224.8,390.8 L1225.4,393.1 L1226,395.4 L1226.6,397.7 L1227.2,399.9 L1227.8,402 L1228.4,403.9 L1229,405.5 L1229.6,406.8 L1230.2,407.7 L1230.8,408.3 L1231.4,408.5 L1232,408.4 L1232.6,407.8 L1233.2,406.9 L1233.8,405.7 L1234.4,404.2 L1235,402.4 L1235.6,400.4 L1236.2,398.3 L1236.8,396.1 L1237.4,393.9 L1238,391.8 L1238.6,389.8 L1239.2,387.9 L1239.8,386.3 L1240.4,384.9 L1241,383.8 L1241.6,383.1 L1242.2,382.8 L1242.8,382.8 L1243.4,383.1 L1244,383.8 L1244.6,384.9 L1245.2,386.2 L1245.8,387.8 L1246.4,389.6 L1247,391.5 L1247.6,393.6 L1248.2,395.7 L1248.8,397.8 L1249.4,399.7 L1250,401.6 L1250.6,403.2 L1251.2,404.7 L1251.8,405.8 L1252.4,406.6 L1253,407.1 L1253.6,407.3 L1254.2,407.1 L1254.8,406.5 L1255.4,405.7 L1256,404.5 L1256.6,403.1 L1257.2,401.5 L1257.8,399.7 L1258.4,397.8 L1259,395.8 L1259.6,393.8 L1260.2,391.9 L1260.8,390.1 L1261.4,388.4 L1262,387 L1262.6,385.8 L1263.2,384.8 L1263.8,384.2 L1264.4,383.9 L1265,384 L1265.6,384.3 L1266.2,385 L1266.8,386 L1267.4,387.2 L1268,388.7 L1268.6,390.4 L1269.2,392.1 L1269.8,394 L1270.4,395.9 L1271,397.8 L1271.6,399.5 L1272.2,401.2 L1272.8,402.7 L1273.4,403.9 L1274,404.9 L1274.6,405.6 L1275.2,406 L1275.8,406.1 L1276.4,405.9 L1277,405.4 L1277.6,404.6 L1278.2,403.5 L1278.8,402.2 L1279.4,400.7 L1280,399 L1280.6,397.3 L1281.2,395.5 L1281.8,393.7 L1282.4,392 L1283,390.4 L1283.6,388.9 L1284.2,387.6 L1284.8,386.5 L1285.4,385.7 L1286,385.2 L1286.6,385 L1287.2,385.1 L1287.8,385.5 L1288.4,386.1 L1289,387 L1289.6,388.2 L1290.2,389.5 L1290.8,391 L1291.4,392.7 L1292,394.4 L1292.6,396.1 L1293.2,397.7 L1293.8,399.3 L1294.4,400.8 L1295,402.1 L1295.6,403.2 L1296.2,404.1 L1296.8,404.7 L1297.4,405 L1298,405.1 L1298.6,404.8 L1299.2,404.3 L1299.8,403.6 L1300.4,402.6 L1301,401.4 L1301.6,400 L1302.2,398.5 L1302.8,396.9 L1303.4,395.3 L1304,393.7 L1304.6,392.1 L1305.2,390.6 L1305.8,389.3 L1306.4,388.2 L1307,387.3 L1307.6,386.6 L1308.2,386.2 L1308.8,386 L1309.4,386.1 L1310,386.5 L1310.6,387.1 L1311.2,388 L1311.8,389 L1312.4,390.3 L1313,391.6 L1313.6,393.1 L1314.2,394.7 L1314.8,396.2 L1315.4,397.7 L1316,399.1 L1316.6,400.5 L1317.2,401.6 L1317.8,402.6 L1318.4,403.3 L1319,403.8 L1319.6,404.1 L1320.2,404.1 L1320.8,403.9 L1321.4,403.4 L1322,402.7 L1322.6,401.7 L1323.2,400.6 L1323.8,399.4 L1324.4,398 L1325,396.5 L1325.6,395.1 L1326.2,393.6 L1326.8,392.2 L1327.4,390.9 L1328,389.8 L1328.6,388.8 L1329.2,387.9 L1329.8,387.4 L1330.4,387 L1331,386.9 L1331.6,387 L1332.2,387.4 L1332.8,388 L1333.4,388.8 L1334,389.8 L1334.6,390.9 L1335.2,392.2 L1335.8,393.5 L1336.4,394.9 L1337,396.3 L1337.6,397.7 L1338.2,398.9 L1338.8,400.1 L1339.4,401.1 L1340,402 L1340.6,402.6 L1341.2,403.1 L1341.8,403.3 L1342.4,403.3 L1343,403 L1343.6,402.5 L1344.2,401.9 L1344.8,401 L1345.4,400 L1346,398.8 L1346.6,397.6 L1347.2,396.3 L1347.8,394.9 L1348.4,393.6 L1349,392.4 L1349.6,391.2 L1350.2,390.2 L1350.8,389.3 L1351.4,388.6 L1352,388.1 L1352.6,387.8 L1353.2,387.7 L1353.8,387.8 L1354.4,388.2 L1355,388.8 L1355.6,389.5 L1356.2,390.4 L1356.8,391.5 L1357.4,392.6 L1358,393.8 L1358.6,395.1 L1359.2,396.4 L1359.8,397.6 L1360.4,398.7 L1361,399.8 L1361.6,400.7 L1362.2,401.4 L1362.8,402 L1363.4,402.4 L1364,402.5 L1364.6,402.5 L1365.2,402.2 L1365.8,401.8 L1366.4,401.1 L1367,400.3 L1367.6,399.4 L1368.2,398.3 L1368.8,397.2 L1369.4,396 L1370,394.8 L1370.6,393.6 L1371.2,392.5 L1371.8,391.5 L1372.4,390.5 L1373,389.8 L1373.6,389.1 L1374.2,388.7 L1374.8,388.5 L1375.4,388.4 L1376,388.6 L1376.6,388.9 L1377.2,389.5 L1377.8,390.2 L1378.4,391 L1379,392 L1379.6,393 L1380.2,394.1 L1380.8,395.3 L1381.4,396.4 L1382,397.5 L1382.6,398.5 L1383.2,399.5 L1383.8,400.3 L1384.4,400.9 L1385,401.4 L1385.6,401.7 L1386.2,401.8 L1386.8,401.8 L1387.4,401.5 L1388,401.1 L1388.6,400.5 L1389.2,399.7 L1389.8,398.9 L1390.4,397.9 L1391,396.9 L1391.6,395.8 L1392.2,394.7 L1392.8,393.6 L1393.4,392.6 L1394,391.7 L1394.6,390.9 L1395.2,390.2 L1395.8,389.7 L1396.4,389.3 L1397,389.1 L1397.6,389.1 L1398.2,389.3 L1398.8,389.6 L1399.4,390.1 L1400,390.8 L1400.6,391.5 L1401.2,392.4 L1401.8,393.4 L1402.4,394.4 L1403,395.4 L1403.6,396.4 L1404.2,397.4 L1404.8,398.3 L1405.4,399.2 L1406,399.9 L1406.6,400.5 L1407.2,400.9 L1407.8,401.1 L1408.4,401.2 L1409,401.1 L1409.6,400.9 L1410.2,400.5 L1410.8,399.9 L1411.4,399.2 L1412,398.4 L1412.6,397.5 L1413.2,396.6 L1413.8,395.6 L1414.4,394.6 L1415,393.7 L1415.6,392.8 L1416.2,391.9 L1416.8,391.2 L1417.4,390.6 L1418,390.2 L1418.6,389.8 L1419.2,389.7 L1419.8,389.7 L1420.4,389.9 L1421,390.2 L1421.6,390.7 L1422.2,391.3 L1422.8,392 L1423.4,392.8 L1424,393.7 L1424.6,394.6 L1425.2,395.5 L1425.8,396.5 L1426.4,397.3 L1427,398.2 L1427.6,398.9 L1428.2,399.5 L1428.8,400 L1429.4,400.4 L1430,400.6 L1430.6,400.7 L1431.2,400.6 L1431.8,400.3 L1432.4,399.9 L1433,399.4 L1433.6,398.8 L1434.2,398 L1434.8,397.2 L1435.4,396.3 L1436,395.5 L1436.6,394.6 L1437.2,393.7 L1437.8,392.9 L1438.4,392.2 L1439,391.5 L1439.6,391 L1440.2,390.6 L1440.8,390.3 L1441.4,390.2 L1442,390.2 L1442.6,390.4 L1443.2,390.7 L1443.8,391.2 L1444.4,391.7 L1445,392.4 L1445.6,393.1 L1446.2,393.9 L1446.8,394.8 L1447.4,395.6 L1448,396.5 L1448.6,397.2 L1449.2,398 L1449.8,398.6 L1450.4,399.2 L1451,399.6 L1451.6,399.9 L1452.2,400.1 L1452.8,400.1 L1453.4,400 L1454,399.8 L1454.6,399.4 L1455.2,398.9 L1455.8,398.3 L1456.4,397.7 L1457,396.9 L1457.6,396.1 L1458.2,395.3 L1458.8,394.5 L1459.4,393.8 L1460,393 L1460.6,392.4 L1461.2,391.8 L1461.8,391.4 L1462.4,391 L1463,390.8 L1463.6,390.7 L1464.2,390.7 L1464.8,390.9 L1465.4,391.2 L1466,391.6 L1466.6,392.2 L1467.2,392.8 L1467.8,393.4 L1468.4,394.2 L1469,394.9 L1469.6,395.7 L1470.2,396.4 L1470.8,397.2 L1471.4,397.8 L1472,398.4 L1472.6,398.9 L1473.2,399.2 L1473.8,399.5 L1474.4,399.7 L1475,399.7 L1475.6,399.6 L1476.2,399.3 L1476.8,399 L1477.4,398.5 L1478,398 L1478.6,397.4 L1479.2,396.7 L1479.8,396 L1480.4,395.2 L1481,394.5 L1481.6,393.8 L1482.2,393.2 L1482.8,392.6 L1483.4,392.1 L1484,391.7 L1484.6,391.4 L1485.2,391.2 L1485.8,391.1 L1486.4,391.2" fill="none" stroke="#ef3a0e" stroke-width="3" stroke-linejoin="round"/>
<path d="M877.5,570 L898.6,570 L899.2,671.7 L900.2,672.2 L901.2,671.7 L902.2,670.3 L903.2,668.1 L904.2,664.9 L905.2,661 L906.2,656.2 L907.2,650.8 L908.2,644.6 L909.2,637.8 L910.2,630.4 L911.2,622.5 L912.2,614.3 L913.2,605.7 L914.2,596.8 L915.2,587.7 L916.2,578.6 L917.2,569.4 L918.2,560.3 L919.2,551.3 L920.2,542.6 L921.2,534.2 L922.2,526.1 L923.2,518.5 L924.2,511.4 L925.2,504.9 L926.2,499 L927.2,493.8 L928.2,489.2 L929.2,485.5 L930.2,482.5 L931.2,480.3 L932.2,478.9 L933.2,478.4 L934.2,478.6 L935.2,479.7 L936.2,481.6 L937.2,484.2 L938.2,487.6 L939.2,491.7 L940.2,496.5 L941.2,501.9 L942.2,507.8 L943.2,514.3 L944.2,521.2 L945.2,528.4 L946.2,536.1 L947.2,543.9 L948.2,551.9 L949.2,560 L950.2,568.2 L951.2,576.3 L952.2,584.3 L953.2,592 L954.2,599.6 L955.2,606.8 L956.2,613.6 L957.2,620 L958.2,625.9 L959.2,631.2 L960.2,636 L961.2,640.1 L962.2,643.6 L963.2,646.3 L964.2,648.4 L965.2,649.7 L966.2,650.4 L967.2,650.2 L968.2,649.4 L969.2,647.9 L970.2,645.7 L971.2,642.8 L972.2,639.2 L973.2,635.1 L974.2,630.4 L975.2,625.2 L976.2,619.6 L977.2,613.5 L978.2,607.1 L979.2,600.4 L980.2,593.5 L981.2,586.4 L982.2,579.2 L983.2,571.9 L984.2,564.7 L985.2,557.6 L986.2,550.7 L987.2,543.9 L988.2,537.5 L989.2,531.4 L990.2,525.6 L991.2,520.3 L992.2,515.5 L993.2,511.2 L994.2,507.4 L995.2,504.3 L996.2,501.7 L997.2,499.7 L998.2,498.4 L999.2,497.8 L1000.2,497.8 L1001.2,498.4 L1002.2,499.6 L1003.2,501.5 L1004.2,504 L1005.2,507 L1006.2,510.6 L1007.2,514.7 L1008.2,519.2 L1009.2,524.1 L1010.2,529.5 L1011.2,535.1 L1012.2,541 L1013.2,547.1 L1014.2,553.4 L1015.2,559.8 L1016.2,566.2 L1017.2,572.6 L1018.2,578.9 L1019.2,585.1 L1020.2,591.2 L1021.2,596.9 L1022.2,602.4 L1023.2,607.6 L1024.2,612.4 L1025.2,616.7 L1026.2,620.6 L1027.2,624.1 L1028.2,627 L1029.2,629.3 L1030.2,631.2 L1031.2,632.4 L1032.2,633.1 L1033.2,633.2 L1034.2,632.8 L1035.2,631.7 L1036.2,630.2 L1037.2,628.1 L1038.2,625.5 L1039.2,622.4 L1040.2,618.8 L1041.2,614.9 L1042.2,610.6 L1043.2,605.9 L1044.2,600.9 L1045.2,595.7 L1046.2,590.3 L1047.2,584.8 L1048.2,579.1 L1049.2,573.4 L1050.2,567.7 L1051.2,562.1 L1052.2,556.6 L1053.2,551.2 L1054.2,546 L1055.2,541.1 L1056.2,536.5 L1057.2,532.2 L1058.2,528.2 L1059.2,524.7 L1060.2,521.6 L1061.2,518.9 L1062.2,516.7 L1063.2,515 L1064.2,513.8 L1065.2,513.1 L1066.2,512.9 L1067.2,513.2 L1068.2,514 L1069.2,515.4 L1070.2,517.1 L1071.2,519.4 L1072.2,522 L1073.2,525.1 L1074.2,528.6 L1075.2,532.4 L1076.2,536.5 L1077.2,540.8 L1078.2,545.4 L1079.2,550.2 L1080.2,555.1 L1081.2,560.1 L1082.2,565.1 L1083.2,570.2 L1084.2,575.2 L1085.2,580.1 L1086.2,584.9 L1087.2,589.5 L1088.2,594 L1089.2,598.1 L1090.2,602 L1091.2,605.5 L1092.2,608.8 L1093.2,611.6 L1094.2,614 L1095.2,616 L1096.2,617.6 L1097.2,618.8 L1098.2,619.5 L1099.2,619.7 L1100.2,619.5 L1101.2,618.9 L1102.2,617.8 L1103.2,616.3 L1104.2,614.4 L1105.2,612.1 L1106.2,609.4 L1107.2,606.4 L1108.2,603.1 L1109.2,599.5 L1110.2,595.7 L1111.2,591.6 L1112.2,587.4 L1113.2,583.1 L1114.2,578.6 L1115.2,574.2 L1116.2,569.7 L1117.2,565.2 L1118.2,560.8 L1119.2,556.5 L1120.2,552.4 L1121.2,548.5 L1122.2,544.7 L1123.2,541.2 L1124.2,538 L1125.2,535.1 L1126.2,532.6 L1127.2,530.3 L1128.2,528.5 L1129.2,527 L1130.2,525.9 L1131.2,525.2 L1132.2,524.9 L1133.2,525 L1134.2,525.5 L1135.2,526.4 L1136.2,527.7 L1137.2,529.3 L1138.2,531.3 L1139.2,533.6 L1140.2,536.3 L1141.2,539.2 L1142.2,542.3 L1143.2,545.7 L1144.2,549.2 L1145.2,552.9 L1146.2,556.8 L1147.2,560.7 L1148.2,564.7 L1149.2,568.7 L1150.2,572.6 L1151.2,576.5 L1152.2,580.3 L1153.2,584 L1154.2,587.6 L1155.2,590.9 L1156.2,594.1 L1157.2,597 L1158.2,599.6 L1159.2,601.9 L1160.2,603.9 L1161.2,605.7 L1162.2,607 L1163.2,608.1 L1164.2,608.7 L1165.2,609.1 L1166.2,609 L1167.2,608.6 L1168.2,607.9 L1169.2,606.8 L1170.2,605.4 L1171.2,603.7 L1172.2,601.7 L1173.2,599.4 L1174.2,596.9 L1175.2,594.1 L1176.2,591.2 L1177.2,588.1 L1178.2,584.8 L1179.2,581.4 L1180.2,577.9 L1181.2,574.4 L1182.2,570.9 L1183.2,567.3 L1184.2,563.9 L1185.2,560.5 L1186.2,557.2 L1187.2,554 L1188.2,551 L1189.2,548.2 L1190.2,545.6 L1191.2,543.2 L1192.2,541.1 L1193.2,539.2 L1194.2,537.6 L1195.2,536.4 L1196.2,535.4 L1197.2,534.8 L1198.2,534.4 L1199.2,534.4 L1200.2,534.7 L1201.2,535.3 L1202.2,536.2 L1203.2,537.4 L1204.2,538.8 L1205.2,540.6 L1206.2,542.6 L1207.2,544.8 L1208.2,547.2 L1209.2,549.8 L1210.2,552.5 L1211.2,555.4 L1212.2,558.4 L1213.2,561.5 L1214.2,564.6 L1215.2,567.7 L1216.2,570.9 L1217.2,574 L1218.2,577 L1219.2,580 L1220.2,582.8 L1221.2,585.5 L1222.2,588 L1223.2,590.4 L1224.2,592.5 L1225.2,594.4 L1226.2,596.1 L1227.2,597.6 L1228.2,598.7 L1229.2,599.6 L1230.2,600.3 L1231.2,600.6 L1232.2,600.7 L1233.2,600.5 L1234.2,600 L1235.2,599.2 L1236.2,598.2 L1237.2,597 L1238.2,595.5 L1239.2,593.7 L1240.2,591.8 L1241.2,589.7 L1242.2,587.4 L1243.2,585 L1244.2,582.5 L1245.2,579.8 L1246.2,577.1 L1247.2,574.3 L1248.2,571.6 L1249.2,568.8 L1250.2,566 L1251.2,563.3 L1252.2,560.7 L1253.2,558.1 L1254.2,555.7 L1255.2,553.5 L1256.2,551.3 L1257.2,549.4 L1258.2,547.7 L1259.2,546.1 L1260.2,544.8 L1261.2,543.7 L1262.2,542.9 L1263.2,542.3 L1264.2,541.9 L1265.2,541.8 L1266.2,542 L1267.2,542.3 L1268.2,543 L1269.2,543.8 L1270.2,544.9 L1271.2,546.2 L1272.2,547.7 L1273.2,549.4 L1274.2,551.2 L1275.2,553.2 L1276.2,555.4 L1277.2,557.6 L1278.2,559.9 L1279.2,562.3 L1280.2,564.8 L1281.2,567.2 L1282.2,569.7 L1283.2,572.2 L1284.2,574.6 L1285.2,576.9 L1286.2,579.2 L1287.2,581.4 L1288.2,583.4 L1289.2,585.3 L1290.2,587.1 L1291.2,588.6 L1292.2,590 L1293.2,591.2 L1294.2,592.2 L1295.2,593 L1296.2,593.6 L1297.2,593.9 L1298.2,594.1 L1299.2,594 L1300.2,593.7 L1301.2,593.2 L1302.2,592.4 L1303.2,591.5 L1304.2,590.4 L1305.2,589.1 L1306.2,587.6 L1307.2,586 L1308.2,584.3 L1309.2,582.4 L1310.2,580.4 L1311.2,578.4 L1312.2,576.2 L1313.2,574.1 L1314.2,571.9 L1315.2,569.7 L1316.2,567.5 L1317.2,565.4 L1318.2,563.3 L1319.2,561.2 L1320.2,559.3 L1321.2,557.5 L1322.2,555.8 L1323.2,554.2 L1324.2,552.8 L1325.2,551.5 L1326.2,550.4 L1327.2,549.5 L1328.2,548.7 L1329.2,548.2 L1330.2,547.8 L1331.2,547.7 L1332.2,547.7 L1333.2,548 L1334.2,548.4 L1335.2,549 L1336.2,549.8 L1337.2,550.8 L1338.2,551.9 L1339.2,553.2 L1340.2,554.6 L1341.2,556.1 L1342.2,557.8 L1343.2,559.5 L1344.2,561.3 L1345.2,563.2 L1346.2,565.1 L1347.2,567 L1348.2,569 L1349.2,570.9 L1350.2,572.8 L1351.2,574.7 L1352.2,576.5 L1353.2,578.3 L1354.2,579.9 L1355.2,581.4 L1356.2,582.9 L1357.2,584.2 L1358.2,585.3 L1359.2,586.3 L1360.2,587.2 L1361.2,587.8 L1362.2,588.3 L1363.2,588.7 L1364.2,588.9 L1365.2,588.8 L1366.2,588.7 L1367.2,588.3 L1368.2,587.8 L1369.2,587.1 L1370.2,586.3 L1371.2,585.3 L1372.2,584.2 L1373.2,583 L1374.2,581.6 L1375.2,580.2 L1376.2,578.7 L1377.2,577.1 L1378.2,575.4 L1379.2,573.7 L1380.2,572 L1381.2,570.3 L1382.2,568.5 L1383.2,566.8 L1384.2,565.2 L1385.2,563.5 L1386.2,562 L1387.2,560.5 L1388.2,559.1 L1389.2,557.8 L1390.2,556.7 L1391.2,555.6 L1392.2,554.7 L1393.2,553.9 L1394.2,553.3 L1395.2,552.8 L1396.2,552.5 L1397.2,552.3 L1398.2,552.3 L1399.2,552.5 L1400.2,552.7 L1401.2,553.2 L1402.2,553.7 L1403.2,554.5 L1404.2,555.3 L1405.2,556.3 L1406.2,557.3 L1407.2,558.5 L1408.2,559.8 L1409.2,561.1 L1410.2,562.5 L1411.2,564 L1412.2,565.5 L1413.2,567 L1414.2,568.6 L1415.2,570.1 L1416.2,571.6 L1417.2,573.1 L1418.2,574.5 L1419.2,575.9 L1420.2,577.3 L1421.2,578.5 L1422.2,579.7 L1423.2,580.7 L1424.2,581.7 L1425.2,582.5 L1426.2,583.2 L1427.2,583.8 L1428.2,584.2 L1429.2,584.5 L1430.2,584.7 L1431.2,584.8 L1432.2,584.7 L1433.2,584.4 L1434.2,584.1 L1435.2,583.6 L1436.2,583 L1437.2,582.2 L1438.2,581.4 L1439.2,580.5 L1440.2,579.4 L1441.2,578.3 L1442.2,577.1 L1443.2,575.9 L1444.2,574.6 L1445.2,573.3 L1446.2,571.9 L1447.2,570.6 L1448.2,569.2 L1449.2,567.9 L1450.2,566.5 L1451.2,565.2 L1452.2,564 L1453.2,562.8 L1454.2,561.7 L1455.2,560.7 L1456.2,559.7 L1457.2,558.9 L1458.2,558.1 L1459.2,557.4 L1460.2,556.9 L1461.2,556.5 L1462.2,556.2 L1463.2,556 L1464.2,556 L1465.2,556 L1466.2,556.2 L1467.2,556.5 L1468.2,556.9 L1469.2,557.4 L1470.2,558.1 L1471.2,558.8 L1472.2,559.6 L1473.2,560.5 L1474.2,561.5 L1475.2,562.5 L1476.2,563.6 L1477.2,564.8 L1478.2,565.9 L1479.2,567.1 L1480.2,568.3 L1481.2,569.5 L1482.2,570.7 L1483.2,571.9 L1484.2,573.1 L1485.2,574.2 L1486.2,575.3" fill="none" stroke="#22548c" stroke-width="3" stroke-linejoin="round"/>
<rect x="876" y="8.4" width="612.2" height="688" fill="none" stroke="#2a2628" stroke-width="3.2"/>
<path d="M899.5,696V679 M958.2,696V687 M1017,696V679 M1075.8,696V687 M1134.5,696V679 M1193.2,696V687 M1252,696V679 M1310.8,696V687 M1369.5,696V679 M1428.2,696V687" stroke="#2a2628" stroke-width="3.2"/>
<!-- (d) -->
<path d="M877.5,1100.8 C878.3,1100.9 879.9,1101.2 882.1,1101.4 C884.4,1101.7 888.3,1102.3 891,1102.3 C893.7,1102.3 896.3,1103.8 898.1,1101.4 C899.9,1099 900.5,1093.9 901.6,1088.1 C902.7,1082.3 903.8,1066.8 904.8,1066.5 C905.8,1066.2 906.8,1080.5 907.8,1086.3 C908.8,1092.1 908.3,1098.7 910.5,1101.4 C912.7,1104.1 917,1102.6 921.1,1102.3 C925.2,1102 931.1,1100.6 935.3,1099.6 C939.4,1098.6 942.5,1097.3 946,1096.1 C949.5,1094.9 952.8,1094.1 956.6,1092.5 C960.5,1090.9 965.6,1088.5 969.1,1086.3 C972.6,1084.1 975,1082.8 977.9,1079.2 C980.8,1075.7 984.1,1070.6 986.8,1065 C989.5,1059.4 991.8,1052.3 993.9,1045.5 C996,1038.7 997.7,1032.2 999.2,1024.2 C1000.7,1016.2 1001.6,1008.8 1002.8,997.6 C1004,986.4 1005.2,971 1006.3,956.8 C1007.4,942.6 1008.3,913.1 1009.3,912.5 C1010.3,911.9 1011.4,938.7 1012.5,953.2 C1013.6,967.7 1015.1,984.6 1016.1,999.4 C1017.1,1014.2 1017.7,1031.5 1018.7,1042 C1019.7,1052.5 1020.5,1056.5 1022.3,1062.4 C1024.1,1068.3 1025.9,1073.4 1029.4,1077.5 C1033,1081.6 1038.3,1084.7 1043.6,1087.2 C1048.9,1089.7 1055.9,1091.4 1061.3,1092.5 C1066.7,1093.6 1071.3,1092.9 1076,1093.6 C1080.7,1094.3 1085.6,1095.9 1089.6,1096.8 C1093.6,1097.7 1094.3,1098.4 1100,1098.9 C1105.7,1099.4 1116.5,1099.5 1124,1100 C1131.5,1100.5 1137.9,1100.8 1144.8,1101.6 C1151.7,1102.4 1160.5,1104.7 1165.6,1104.8 C1170.7,1104.9 1171.7,1103.9 1175.2,1102.4 C1178.7,1100.9 1182.9,1098.9 1186.4,1096 C1189.9,1093.1 1193.1,1089.6 1196,1084.8 C1198.9,1080 1201.5,1074.7 1204,1067.2 C1206.5,1059.7 1208.9,1047.3 1211.2,1040 C1213.5,1032.7 1215.6,1024.8 1217.6,1023.5 C1219.6,1022.2 1221.2,1024.7 1223.2,1032 C1225.2,1039.3 1227.5,1057.6 1229.6,1067.2 C1231.7,1076.8 1233.3,1084.7 1236,1089.6 C1238.7,1094.5 1240.3,1095.2 1245.6,1096.8 C1250.9,1098.4 1258.9,1098.4 1268,1099.2 C1277.1,1100 1289.7,1101.3 1300,1101.6 C1310.3,1101.9 1320,1101 1330,1101 C1340,1101 1348.3,1101.8 1360,1101.8 C1371.7,1101.8 1386.7,1101.3 1400,1101.3 C1413.3,1101.3 1425.6,1101.8 1440,1102 C1454.4,1102.2 1478.8,1102.4 1486.5,1102.5" fill="none" stroke="#ef3a0e" stroke-width="3.2" stroke-linejoin="round"/>
<rect x="876" y="830" width="612.2" height="284.6" fill="none" stroke="#2a2628" stroke-width="3.4"/>
<path d="M886.2,1114.5V1104.5 M904.8,1114.5V1096.5 M923.4,1114.5V1104.5 M941.9,1114.5V1104.5 M960.5,1114.5V1104.5 M979,1114.5V1104.5 M997.6,1114.5V1096.5 M1016.2,1114.5V1104.5 M1034.7,1114.5V1104.5 M1053.3,1114.5V1104.5 M1071.8,1114.5V1104.5 M1090.4,1114.5V1096.5 M1109,1114.5V1104.5 M1127.5,1114.5V1104.5 M1146.1,1114.5V1104.5 M1164.6,1114.5V1104.5 M1183.2,1114.5V1096.5 M1201.8,1114.5V1104.5 M1220.3,1114.5V1104.5 M1238.9,1114.5V1104.5 M1257.4,1114.5V1104.5 M1276,1114.5V1096.5 M1294.6,1114.5V1104.5 M1313.1,1114.5V1104.5 M1331.7,1114.5V1104.5 M1350.2,1114.5V1104.5 M1368.8,1114.5V1096.5 M1387.4,1114.5V1104.5 M1405.9,1114.5V1104.5 M1424.5,1114.5V1104.5 M1443,1114.5V1104.5 M1461.6,1114.5V1096.5 M1480.2,1114.5V1104.5 M876,834.5H894 M876,879.7H887 M876,924.9H894 M876,970.1H887 M876,1015.3H894 M876,1060.5H887" stroke="#2a2628" stroke-width="3.2"/>
<!-- text -->
<text x="2.23" y="48.3" font-size="47" fill="#000">(a)</text>
<text x="273.99" y="49.2" font-size="50.5" fill="#000">T</text>
<text x="315.68" y="49.2" font-size="50.5" fill="#000">=</text>
<text x="354.97" y="49.2" font-size="50.5" fill="#000">7</text>
<text x="392.85" y="49.2" font-size="50.5" fill="#000">K,</text>
<text x="452.25" y="49.2" font-size="50.5" fill="#000">B</text>
<text x="486.32" y="66" font-size="34" fill="#000">V</text>
<text x="516.58" y="49.2" font-size="50.5" fill="#000">=</text>
<text x="556.68" y="49.2" font-size="50.5" fill="#000">0.5</text>
<text x="629.99" y="49.2" font-size="50.5" fill="#000">T</text>
<text x="460.43" y="120.4" font-size="51" fill="#000">P</text>
<text x="499.36" y="120.4" font-size="51" fill="#000">=</text>
<text x="538.76" y="120.4" font-size="51" fill="#000">2</text>
<text x="577.03" y="120.4" font-size="51" fill="#000">m</text>
<text x="611.46" y="120.4" font-size="51" fill="#000">W</text>
<text transform="translate(81,0) rotate(-90)" x="-440.01" y="0" font-size="50" fill="#000">KR amplitude</text>
<text x="116.55" y="644.2" font-size="49" fill="#000">0</text>
<text x="208.79" y="644.2" font-size="49" fill="#000">0.2</text>
<text x="318.82" y="644.2" font-size="49" fill="#000">0.4</text>
<text x="430.17" y="644.2" font-size="49" fill="#000">0.6</text>
<text x="541.38" y="644.2" font-size="49" fill="#000">0.8</text>
<text x="670.67" y="644.2" font-size="49" fill="#000">1</text>
<text x="325.7" y="703.5" font-size="49" fill="#000">Time (ns)</text>
<text x="107.63" y="384.8" font-size="48" fill="#c30a10">hole</text>
<text x="106.22" y="432.2" font-size="48" fill="#549c1a">electron</text>
<text x="260.39" y="396.6" font-size="48" fill="#c30a10">|</text>
<text x="269.54" y="396.6" font-size="48" fill="#c30a10">g</text>
<text x="295.66" y="416.2" font-size="35" fill="#c30a10">h</text>
<text x="311.59" y="396.6" font-size="48" fill="#c30a10">|</text>
<text x="327.21" y="396.6" font-size="48" fill="#c30a10">=</text>
<text x="368.97" y="396.6" font-size="48" fill="#c30a10">0.56,</text>
<text x="479.73" y="396.6" font-size="48" fill="#c30a10">T</text>
<text x="509.06" y="416.2" font-size="35" fill="#c30a10">2,h</text>
<text x="550.34" y="379.5" font-size="36" fill="#c30a10">*</text>
<text x="572.71" y="396.6" font-size="48" fill="#c30a10">=</text>
<text x="613.88" y="396.6" font-size="48" fill="#c30a10">1.9</text>
<text x="688.65" y="396.6" font-size="48" fill="#c30a10">ns</text>
<text x="260.79" y="466.6" font-size="48" fill="#549c1a">|</text>
<text x="269.34" y="466.6" font-size="48" fill="#549c1a">g</text>
<text x="294.83" y="485.2" font-size="35" fill="#549c1a">e</text>
<text x="310.39" y="466.6" font-size="48" fill="#549c1a">|</text>
<text x="329.01" y="466.6" font-size="48" fill="#549c1a">=</text>
<text x="371.69" y="466.6" font-size="48" fill="#549c1a">2.72,</text>
<text x="484.03" y="466.6" font-size="48" fill="#549c1a">T</text>
<text x="513.16" y="485.2" font-size="35" fill="#549c1a">2,e</text>
<text x="552.14" y="449.5" font-size="36" fill="#549c1a">*</text>
<text x="574.91" y="466.6" font-size="48" fill="#549c1a">=</text>
<text x="616.47" y="466.6" font-size="48" fill="#549c1a">0.4</text>
<text x="690.05" y="466.6" font-size="48" fill="#549c1a">ns</text>
<text x="7.53" y="829.5" font-size="47" fill="#000">(b)</text>
<text transform="translate(139.8,0) rotate(-90)" x="-1070.84" y="0" font-size="51" fill="#000">FFT amplitude</text>
<text x="304.09" y="828.5" font-size="52" fill="#c30a10">hole</text>
<text x="510.59" y="884" font-size="51.5" fill="#549c1a">electron</text>
<text x="170.1" y="1153.6" font-size="50" fill="#000">0</text>
<text x="338.5" y="1153.6" font-size="50" fill="#000">50</text>
<text x="508.75" y="1153.6" font-size="50" fill="#000">100</text>
<text x="691.05" y="1153.6" font-size="50" fill="#000">150</text>
<text x="203.13" y="1215.3" font-size="51" fill="#000">Frequency</text>
<text x="433.61" y="1215.3" font-size="51" fill="#000">ω</text>
<text x="467.59" y="1234.5" font-size="35" fill="#000">L</text>
<text x="499.66" y="1215.3" font-size="51" fill="#000">(</text>
<text x="517.68" y="1215.3" font-size="51" fill="#000">rad</text>
<text x="596.73" y="1215.3" font-size="51" fill="#000">ns</text>
<text x="642.1" y="1196.5" font-size="35" fill="#000">-1</text>
<text x="670.66" y="1215.3" font-size="51" fill="#000">)</text>
<text x="768.43" y="48.5" font-size="47" fill="#000">(c)</text>
<text x="901.31" y="53.3" font-size="40" font-weight="bold" fill="#111">a</text>
<text x="1102.52" y="67.6" font-size="41" font-style="italic" fill="#302c2c">T</text>
<text x="1133.86" y="67.6" font-size="41" fill="#302c2c">=</text>
<text x="1167.64" y="67.6" font-size="41" fill="#302c2c">6</text>
<text x="1199.62" y="67.6" font-size="41" fill="#302c2c">K,</text>
<text x="1249.62" y="67.6" font-size="41" font-style="italic" fill="#302c2c">B</text>
<text x="1293.16" y="67.6" font-size="41" fill="#302c2c">=</text>
<text x="1329.6" y="67.6" font-size="41" fill="#302c2c">100</text>
<text x="1399.25" y="67.6" font-size="41" fill="#302c2c">mT</text>
<text transform="translate(860.3,0) rotate(-90)" x="-431.94" y="0" font-size="40.5" fill="#302c2c">KR signal</text>
<text x="889.17" y="744.3" font-size="40.5" fill="#302c2c">0</text>
<text x="1006.31" y="744.3" font-size="40.5" fill="#302c2c">1</text>
<text x="1124.1" y="744.3" font-size="40.5" fill="#302c2c">2</text>
<text x="1241.2" y="744.3" font-size="40.5" fill="#302c2c">3</text>
<text x="1359.3" y="744.3" font-size="40.5" fill="#302c2c">4</text>
<text x="1476.99" y="744.3" font-size="40.5" fill="#302c2c">5</text>
<text x="1102.17" y="796.6" font-size="40.8" fill="#302c2c">Time [ns]</text>
<text x="1114.52" y="338.8" font-size="41" fill="#ef3a0e">|</text>
<text x="1122.58" y="338.8" font-size="41" font-style="italic" fill="#ef3a0e">g</text>
<text x="1143.11" y="353.3" font-size="28" fill="#ef3a0e">e</text>
<text x="1155.02" y="338.8" font-size="41" fill="#ef3a0e">|</text>
<text x="1163.66" y="338.8" font-size="41" fill="#ef3a0e">=</text>
<text x="1197.34" y="338.8" font-size="41" fill="#ef3a0e">3.57,</text>
<text x="1302.42" y="338.8" font-size="41" font-style="italic" fill="#ef3a0e">T</text>
<text x="1323.37" y="353.3" font-size="28" fill="#ef3a0e">2</text>
<text x="1338.23" y="322.5" font-size="28" fill="#ef3a0e">*</text>
<text x="1350.56" y="338.8" font-size="41" fill="#ef3a0e">=</text>
<text x="1387.4" y="338.8" font-size="41" fill="#ef3a0e">1.9</text>
<text x="1446.43" y="338.8" font-size="41" fill="#ef3a0e">ns</text>
<text x="1114.52" y="486" font-size="41" fill="#22548c">|</text>
<text x="1123.28" y="486" font-size="41" font-style="italic" fill="#22548c">g</text>
<text x="1145.13" y="501.2" font-size="28" fill="#22548c">h</text>
<text x="1157.52" y="486" font-size="41" fill="#22548c">|</text>
<text x="1165.56" y="486" font-size="41" fill="#22548c">=</text>
<text x="1201.4" y="486" font-size="41" fill="#22548c">1.21,</text>
<text x="1303.82" y="486" font-size="41" font-style="italic" fill="#22548c">T</text>
<text x="1324.77" y="501.5" font-size="28" fill="#22548c">2</text>
<text x="1339.53" y="470" font-size="28" fill="#22548c">*</text>
<text x="1351.26" y="486" font-size="41" fill="#22548c">=</text>
<text x="1385.9" y="486" font-size="41" fill="#22548c">2.4</text>
<text x="1447.73" y="486" font-size="41" fill="#22548c">ns</text>
<text x="774.43" y="829.3" font-size="47" fill="#000">(d)</text>
<text x="902.19" y="882.6" font-size="40" font-weight="bold" fill="#111">b</text>
<text x="963.8" y="896.5" font-size="40.5" fill="#302c2c">hole</text>
<text x="1102.72" y="883" font-size="41" font-style="italic" fill="#302c2c">T</text>
<text x="1134.06" y="883" font-size="41" fill="#302c2c">=</text>
<text x="1167.84" y="883" font-size="41" fill="#302c2c">6</text>
<text x="1199.82" y="883" font-size="41" fill="#302c2c">K,</text>
<text x="1249.82" y="883" font-size="41" font-style="italic" fill="#302c2c">B</text>
<text x="1293.36" y="883" font-size="41" fill="#302c2c">=</text>
<text x="1329.8" y="883" font-size="41" fill="#302c2c">100</text>
<text x="1399.25" y="883" font-size="41" fill="#302c2c">mT</text>
<text x="1137.71" y="973.5" font-size="40.8" fill="#302c2c">electron</text>
<text transform="translate(860,0) rotate(-90)" x="-1093.41" y="0" font-size="40.8" fill="#302c2c">FFT amplitude</text>
<text x="894.25" y="1163.3" font-size="41" fill="#302c2c">0</text>
<text x="978.08" y="1163.3" font-size="41" fill="#302c2c">10</text>
<text x="1069.78" y="1163.3" font-size="41" fill="#302c2c">20</text>
<text x="1161.6" y="1163.3" font-size="41" fill="#302c2c">30</text>
<text x="1254.88" y="1163.3" font-size="41" fill="#302c2c">40</text>
<text x="1347.59" y="1163.3" font-size="41" fill="#302c2c">50</text>
<text x="1439.9" y="1163.3" font-size="41" fill="#302c2c">60</text>
<text x="1080.94" y="1218.8" font-size="41" font-style="italic" fill="#302c2c">ω</text>
<text x="1110.79" y="1234.6" font-size="28" fill="#302c2c">L</text>
<text x="1133.56" y="1218.8" font-size="41" fill="#302c2c">[</text>
<text x="1147.48" y="1218.8" font-size="41" fill="#302c2c">rad</text>
<text x="1211.16" y="1218.8" font-size="41" fill="#302c2c">ns</text>
<text x="1246.26" y="1203.3" font-size="28" fill="#302c2c">-1</text>
<text x="1268.49" y="1218.8" font-size="41" fill="#302c2c">]</text>
<path d="M1283.9,56.7V73.7M1274.1,73.7H1293.7" stroke="#302c2c" stroke-width="2.2" fill="none"/><path d="M1284.1,872.1V889.1M1274.3,889.1H1293.9" stroke="#302c2c" stroke-width="2.2" fill="none"/>
</g>
</svg>
</body></html>
